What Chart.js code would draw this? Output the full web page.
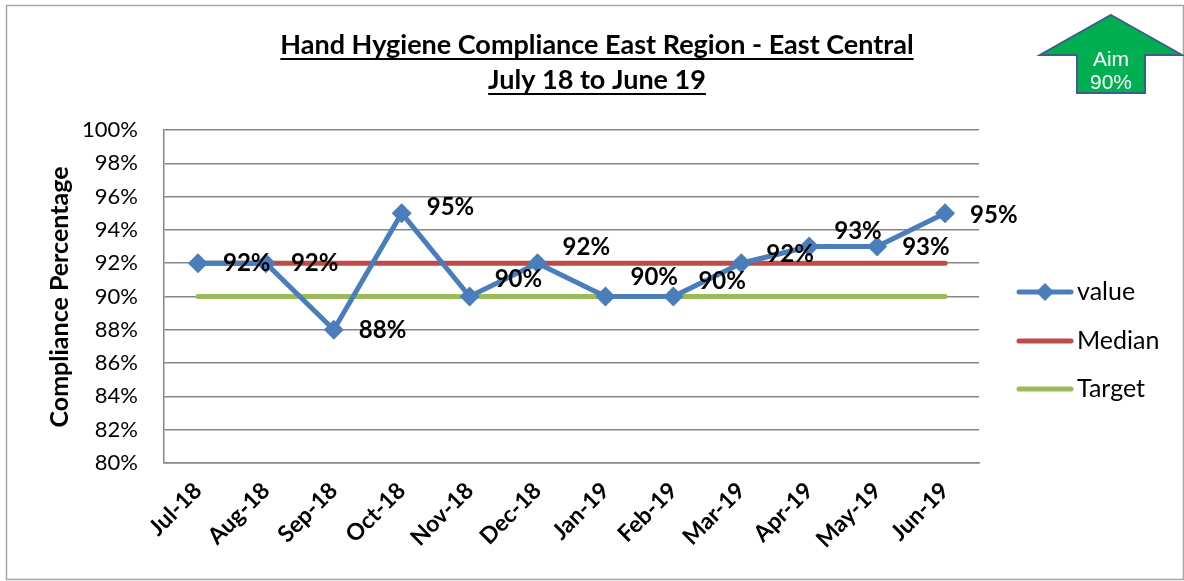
<!DOCTYPE html>
<html>
<head>
<meta charset="utf-8">
<script src="https://cdn.jsdelivr.net/npm/chart.js@4/dist/chart.umd.min.js"></script>
<style>
  body { margin: 0; background: #fff; }
  canvas { display: block; }
</style>
</head>
<body>
<canvas id="hh-chart" width="1184" height="581"></canvas>
<script>
const months = ["Jul-18", "Aug-18", "Sep-18", "Oct-18", "Nov-18", "Dec-18",
                "Jan-19", "Feb-19", "Mar-19", "Apr-19", "May-19", "Jun-19"];
const compliance = [92, 92, 88, 95, 90, 92, 90, 90, 92, 93, 93, 95];
const median = [92, 92, 92, 92, 92, 92, 92, 92, 92, 92, 92, 92];
const target = [90, 90, 90, 90, 90, 90, 90, 90, 90, 90, 90, 90];
const yTicks = [80, 82, 84, 86, 88, 90, 92, 94, 96, 98, 100];

// vertical nudge of each value label (label placement, as in the original)
const labelNudge = [0, 0, 0, -6, -17, -16, -19, -15, -9, -15, 1, 2];

const FONT = "Lato, 'Open Sans', sans-serif";

const decorations = {
  id: "decorations",
  beforeDraw(chart) {
    const ctx = chart.ctx;
    ctx.save();
    ctx.fillStyle = "#fff";
    ctx.fillRect(0, 0, chart.width, chart.height);
    ctx.strokeStyle = "#a6a6a6";
    ctx.lineWidth = 1.5;
    ctx.strokeRect(6.5, 5.5, 1177, 574);
    ctx.restore();
  },
  afterDatasetsDraw(chart) {
    // value labels for the first series
    const ctx = chart.ctx;
    const meta = chart.getDatasetMeta(0);
    ctx.save();
    ctx.font = "bold 24px " + FONT;
    ctx.fillStyle = "#000";
    ctx.textAlign = "left";
    ctx.textBaseline = "middle";
    meta.data.forEach((pt, i) => {
      ctx.fillText(compliance[i] + "%", pt.x + 25, pt.y + labelNudge[i]);
    });
    ctx.restore();
  },
  afterDraw(chart) {
    const ctx = chart.ctx;
    ctx.save();

    // title with underline
    ctx.fillStyle = "#000";
    ctx.textAlign = "center";
    ctx.textBaseline = "alphabetic";
    ctx.font = "bold 27px " + FONT;
    const lines = ["Hand Hygiene Compliance East Region - East Central", "July 18 to June 19"];
    const baseY = [54, 89];
    lines.forEach((t, i) => {
      ctx.fillText(t, 597, baseY[i]);
      const w = ctx.measureText(t).width;
      ctx.fillRect(597 - w / 2, baseY[i] + 4, w, 2);
    });

    // y axis title
    ctx.save();
    ctx.translate(60, 297);
    ctx.rotate(-Math.PI / 2);
    ctx.font = "bold 25px " + FONT;
    ctx.textBaseline = "middle";
    ctx.fillText("Compliance Percentage", 0, 0);
    ctx.restore();

    // legend
    const rowY = [292, 341, 389];
    chart.data.datasets.forEach((ds, i) => {
      const y = rowY[i];
      ctx.strokeStyle = ds.borderColor;
      ctx.lineWidth = 5;
      ctx.lineCap = "round";
      ctx.beginPath();
      ctx.moveTo(1019, y);
      ctx.lineTo(1071, y);
      ctx.stroke();
      if (ds.pointRadius > 0) {
        ctx.fillStyle = ds.pointBackgroundColor;
        ctx.beginPath();
        ctx.moveTo(1045, y - 9);
        ctx.lineTo(1054, y);
        ctx.lineTo(1045, y + 9);
        ctx.lineTo(1036, y);
        ctx.closePath();
        ctx.fill();
      }
      ctx.fillStyle = "#000";
      ctx.font = "25px " + FONT;
      ctx.textAlign = "left";
      ctx.textBaseline = "middle";
      ctx.fillText(ds.label, 1077, y);
    });

    // aim arrow
    ctx.beginPath();
    ctx.moveTo(1111, 15);
    ctx.lineTo(1182, 55);
    ctx.lineTo(1145, 55);
    ctx.lineTo(1145, 93);
    ctx.lineTo(1077, 93);
    ctx.lineTo(1077, 55);
    ctx.lineTo(1040, 55);
    ctx.closePath();
    ctx.fillStyle = "#00b050";
    ctx.fill();
    ctx.strokeStyle = "#3a5f8b";
    ctx.lineWidth = 2;
    ctx.lineJoin = "miter";
    ctx.stroke();
    ctx.fillStyle = "#fff";
    ctx.font = "21px 'Liberation Sans', Arial, sans-serif";
    ctx.textAlign = "center";
    ctx.textBaseline = "middle";
    ctx.fillText("Aim", 1111, 60);
    ctx.fillText("90%", 1111, 83);

    ctx.restore();
  }
};

new Chart(document.getElementById("hh-chart"), {
  type: "line",
  data: {
    labels: months,
    datasets: [
      {
        label: "value",
        data: compliance,
        borderColor: "#4a7ebb",
        backgroundColor: "#4a7ebb",
        pointBackgroundColor: "#4a7ebb",
        pointBorderColor: "#4a7ebb",
        borderWidth: 5,
        pointStyle: "rectRot",
        pointRadius: 10,
        pointBorderWidth: 0,
        tension: 0,
        order: 0
      },
      {
        label: "Median",
        data: median,
        borderColor: "#be4b48",
        backgroundColor: "#be4b48",
        borderWidth: 5,
        borderCapStyle: "round",
        pointRadius: 0,
        order: 1
      },
      {
        label: "Target",
        data: target,
        borderColor: "#9bbb59",
        backgroundColor: "#9bbb59",
        borderWidth: 5,
        borderCapStyle: "round",
        pointRadius: 0,
        order: 2
      }
    ]
  },
  options: {
    responsive: false,
    animation: false,
    layout: { padding: { top: 130, right: 205, left: 0, bottom: 0 } },
    plugins: {
      legend: { display: false },
      title: { display: false },
      tooltip: { enabled: false }
    },
    scales: {
      x: {
        offset: true,
        grid: { display: false, drawTicks: false },
        border: { color: "#868686", width: 1.5 },
        ticks: {
          minRotation: 45,
          maxRotation: 45,
          padding: 14,
          color: "#000",
          font: { family: FONT, size: 23, weight: "bold" }
        },
        afterFit(scale) { scale.height = 118; }
      },
      y: {
        min: 80,
        max: 100,
        afterBuildTicks(scale) { scale.ticks = yTicks.map(v => ({ value: v })); },
        grid: { color: "#868686", lineWidth: 1.5, drawTicks: false },
        border: { color: "#868686", width: 1.5 },
        ticks: {
          padding: 26,
          color: "#000",
          font: { family: FONT, size: 22 },
          callback: v => v + "%"
        },
        afterFit(scale) { scale.width = 164; }
      }
    }
  },
  plugins: [decorations]
});
</script>
</body>
</html>
